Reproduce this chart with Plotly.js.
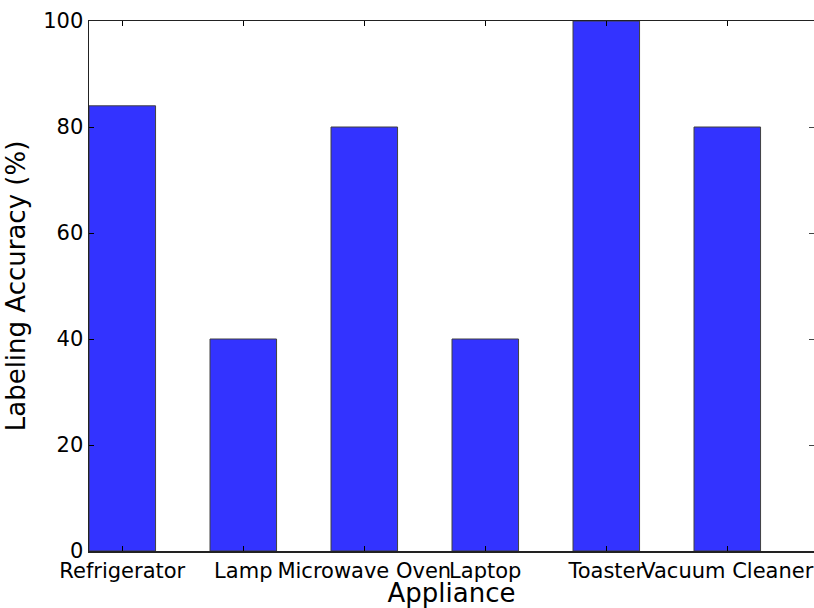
<!DOCTYPE html>
<html>
<head>
<meta charset="utf-8">
<script src="https://cdn.plot.ly/plotly-3.0.1.min.js"></script>
<style>html,body{margin:0;padding:0;background:#fff;}#chart{width:814px;height:608px;}</style>
</head>
<body>
<div id="chart"></div>
<script>
const appliances = ["Refrigerator", "Lamp", "Microwave Oven", "Laptop", "Toaster", "Vacuum Cleaner"];
const accuracy = [84, 40, 80, 40, 100, 80];
const yTicks = [0, 20, 40, 60, 80, 100];

const font = "DejaVu Sans, sans-serif";
const xRange = [-0.275, -0.275 + 725 / 121];
const trace = {
  type: "bar",
  x: appliances,
  y: accuracy,
  width: 0.55,
  marker: {color: "#3333ff", line: {color: "#404040", width: 1}},
  hoverinfo: "none"
};
const layout = {
  width: 814, height: 608,
  margin: {l: 89, r: 0, t: 21, b: 57},
  paper_bgcolor: "#fff", plot_bgcolor: "#fff",
  showlegend: false,
  font: {family: font, color: "#000"},
  xaxis: {
    type: "category",
    range: xRange,
    showgrid: false, zeroline: false,
    showline: true, linecolor: "#222", linewidth: 1.5, mirror: false,
    ticks: "inside", ticklen: 5, tickwidth: 1, tickcolor: "#000",
    tickfont: {family: font, size: 21, color: "#000"},
    tickangle: 0,
    automargin: false,
    title: {text: "Appliance", font: {family: font, size: 26, color: "#000"}, standoff: 2}
  },
  xaxis2: {
    overlaying: "x", side: "top", anchor: "y2",
    type: "linear",
    range: xRange,
    tickvals: appliances.map((_, i) => i),
    showticklabels: false,
    showgrid: false, zeroline: false,
    showline: true, linecolor: "#222", linewidth: 1.5,
    ticks: "inside", ticklen: 5, tickwidth: 1, tickcolor: "#000"
  },
  yaxis: {
    range: [0, 100],
    tickvals: yTicks,
    showgrid: false, zeroline: false,
    showline: true, linecolor: "#222", linewidth: 1.5, mirror: false,
    ticks: "inside", ticklen: 5, tickwidth: 1, tickcolor: "#000",
    tickfont: {family: font, size: 21, color: "#000"},
    automargin: false,
    title: {text: "Labeling Accuracy (%)", font: {family: font, size: 26, color: "#000"}, standoff: 10}
  },
  yaxis2: {
    overlaying: "y", side: "right", anchor: "x2",
    range: [0, 100],
    tickvals: yTicks,
    showticklabels: false,
    showgrid: false, zeroline: false, showline: false,
    ticks: "inside", ticklen: 5, tickwidth: 1, tickcolor: "#444"
  }
};
const frameTicks = {type: "scatter", x: [], y: [], xaxis: "x2", yaxis: "y2", hoverinfo: "none", showlegend: false};
Plotly.newPlot("chart", [trace, frameTicks], layout, {staticPlot: true, displayModeBar: false});
</script>
</body>
</html>
